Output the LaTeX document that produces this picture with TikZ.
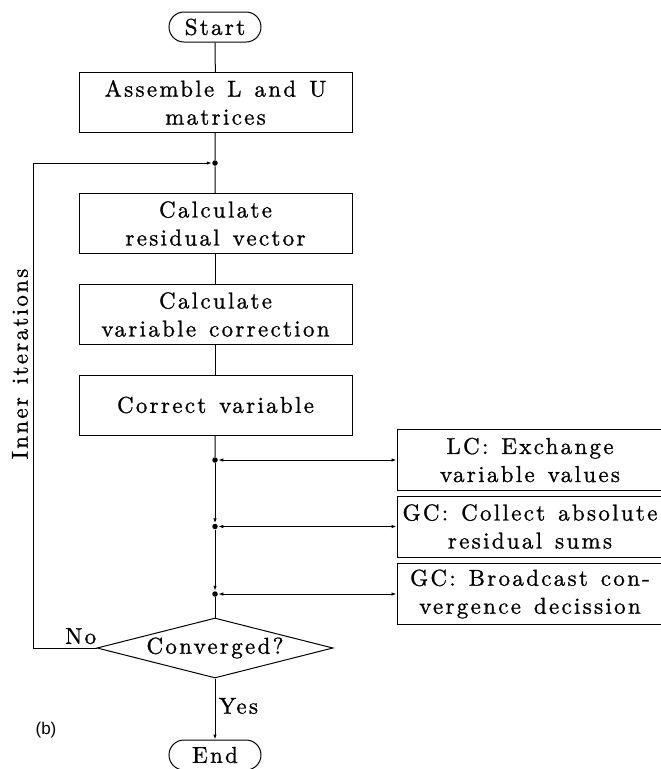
\documentclass[tikz,border=0pt]{standalone}
\usepackage{fontspec}
\setmainfont{lmroman10-regular.otf}[LetterSpace=10, WordSpace=1.3, FakeBold=1]
\newfontfamily\labelfont{Liberation Sans}
\usetikzlibrary{arrows.meta}
\usetikzlibrary{shapes.geometric}
\usetikzlibrary{shapes.misc}
\tikzstyle{process}=[rectangle, draw=black, minimum width=273pt, minimum height=60pt, align=center]
\tikzstyle{comm}=[rectangle, draw=black, minimum width=266pt, minimum height=61pt, align=center, inner sep=1pt]
\tikzstyle{terminal}=[rounded rectangle, draw=black, minimum width=92pt, minimum height=30pt, inner sep=0pt]
\tikzstyle{decision}=[diamond, draw=black, aspect=3.9, minimum width=236pt, minimum height=60pt, inner sep=0pt]
\tikzstyle{junction}=[circle, fill=black, inner sep=0pt, minimum size=5.5pt]
\tikzset{>={Latex[length=5pt,width=3.5pt]}}

\begin{document}
\begin{tikzpicture}[x=1pt, y=-1pt, line width=1pt, font=\fontsize{23}{28}\selectfont]
        \useasboundingbox (0,0) rectangle (661,769);

        % Main column
        \node at (215,27) [terminal] (start) {Start};
        \node at (215.5,102.5) [process] (assemble) {Assemble L and U\\matrices};
        \node at (215,163) [junction] (junc_0) {};
        \node at (215.5,223.5) [process] (residual) {Calculate\\residual vector};
        \node at (215.5,314.5) [process] (correction) {Calculate\\variable correction};
        \node at (215.5,405) [process] (correct) {Correct variable};

        % Communication
        \foreach \i/\y/\txt in {1/460/{LC: Exchange\\variable values},
                                2/526.5/{GC: Collect absolute\\residual sums},
                                3/594/{GC: Broadcast con-\\vergence decission}}
        {
          \node at (215,\y) [junction] (junc_\i) {};
          \node at (530,\y) [comm] (comm_\i) {\txt};
          \draw [<->] (junc_\i) to (comm_\i);
        }

        \node at (215,648) [decision] (conv) {Converged?};
        \node at (215,755) [terminal] (stop) {End};

        % Connectors
        \draw (start) to (assemble);
        \draw (assemble) to (junc_0);
        \draw (junc_0) to (residual);
        \draw (residual) to (correction);
        \draw (correction) to (correct);
        \draw (correct) to (junc_1);
        \draw [->] (junc_1) to (junc_2);
        \draw [->] (junc_2) to (junc_3);
        \draw (junc_3) to (conv);
        \draw [->] (conv) to node[right, pos=0.45] (yes) {Yes} (stop);
        \coordinate (loop) at (33,648);
        \draw [->] (conv.west) to node[above, pos=0.25] (no) {No} (loop) |- (junc_0);

        % Text
        \node at (20,364) [rotate=90] (inner) {Inner iterations};
        \node at (46,730) [font=\labelfont\fontsize{17}{20}\selectfont] (panel) {(b)};
\end{tikzpicture}
\end{document}
